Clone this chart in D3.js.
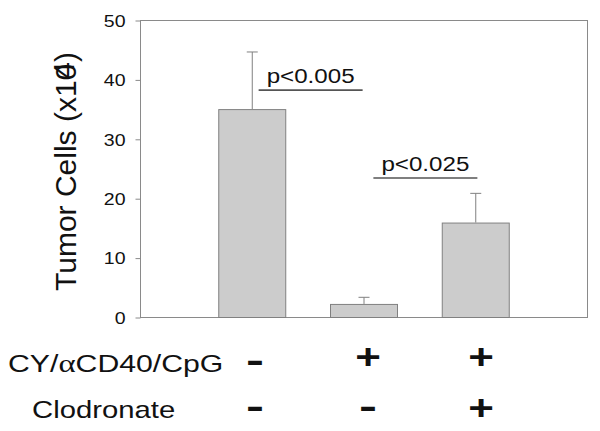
<!DOCTYPE html>
<html>
<head>
<meta charset="utf-8">
<script src="https://cdn.jsdelivr.net/npm/d3@7"></script>
<style>
  body { margin: 0; background: #fff; }
  svg { display: block; font-family: "Liberation Sans", Arial, sans-serif; }
</style>
</head>
<body>
<div id="chart"></div>
<script>
// data
var groups = ["control", "treated", "treated+clodronate"];
var means = [35, 2.2, 15.9];
var errs = [9.7, 1.2, 5.0];
var yTicks = [0, 10, 20, 30, 40, 50];
var pLabels = ["p<0.005", "p<0.025"];
var pPairs = [[0, 1], [1, 2]];
var pLevels = [38.2, 23.4];
var rowLabels = ["CY/\u03b1CD40/CpG", "Clodronate"];
var treatRow = ["-", "+", "+"];
var clodRow = ["-", "-", "+"];

var width = 600, height = 431;
var plotL = 140, plotR = 587, plotT = 20, plotB = 317;
var sx = 1.22; // the original figure text is stretched sideways

var svg = d3.select("#chart").append("svg")
  .attr("width", width).attr("height", height);

var x = d3.scalePoint().domain(groups).range([plotL, plotR]).padding(1);
var y = d3.scaleLinear().domain([0, 50]).range([plotB, plotT]);

// frame
svg.append("rect")
  .attr("x", plotL + 0.5).attr("y", plotT + 0.5)
  .attr("width", plotR - plotL).attr("height", plotB - plotT)
  .attr("fill", "none").attr("stroke", "#8a8a8a");

// y axis
var yAxis = svg.append("g")
  .attr("transform", "translate(" + (plotL + 0.5) + ",0.5)")
  .call(d3.axisLeft(y).tickValues(yTicks).tickSize(5).tickSizeOuter(0));
yAxis.select(".domain").remove();
yAxis.selectAll("line").attr("stroke", "#8a8a8a");
yAxis.selectAll("text")
  .attr("x", 0).attr("dy", "0.36em")
  .attr("transform", "translate(-15,0) scale(" + sx + ",1)")
  .attr("fill", "#111")
  .style("font-size", "16px")
  .style("font-family", "Liberation Sans, Arial, sans-serif");

// y label
svg.append("text")
  .attr("transform", "translate(76," + ((plotT + plotB) / 2 + 3) + ") rotate(-90)")
  .attr("text-anchor", "middle")
  .style("font-size", "30px")
  .attr("fill", "#111")
  .call(function (t) {
    t.append("tspan").text("Tumor Cells (x10");
    t.append("tspan").attr("dx", "-0.5em").attr("dy", -2).text("4");
    t.append("tspan").attr("dy", 2).text(")");
  });

// bars
var barW = 67;
svg.selectAll(".bar").data(groups).enter().append("rect")
  .attr("class", "bar")
  .attr("x", function (d) { return x(d) - barW / 2 + 0.5; })
  .attr("y", function (d, i) { return y(means[i]) + 0.5; })
  .attr("width", barW)
  .attr("height", function (d, i) { return y(0) - y(means[i]); })
  .attr("fill", "#cccccc").attr("stroke", "#808080");

// error bars (upper only)
var err = svg.selectAll(".err").data(groups).enter().append("g")
  .attr("stroke", "#808080").attr("fill", "none");
err.append("line")
  .attr("x1", function (d) { return x(d) + 0.5; })
  .attr("x2", function (d) { return x(d) + 0.5; })
  .attr("y1", function (d, i) { return y(means[i]); })
  .attr("y2", function (d, i) { return y(means[i] + errs[i]) + 0.5; });
err.append("line")
  .attr("x1", function (d) { return x(d) - 5; })
  .attr("x2", function (d) { return x(d) + 6; })
  .attr("y1", function (d, i) { return y(means[i] + errs[i]) + 0.5; })
  .attr("y2", function (d, i) { return y(means[i] + errs[i]) + 0.5; });

// significance brackets
pLabels.forEach(function (lab, i) {
  var a = x(groups[pPairs[i][0]]), b = x(groups[pPairs[i][1]]);
  var cx = (a + b) / 2 + 3 + i * 3;
  var ly = y(pLevels[i]);
  svg.append("line")
    .attr("x1", cx - 52).attr("x2", cx + 52)
    .attr("y1", ly).attr("y2", ly)
    .attr("stroke", "#555").attr("stroke-width", 1.6);
  svg.append("text")
    .attr("transform", "translate(" + cx + "," + (ly - 7) + ") scale(" + (sx - 0.07) + ",1)")
    .attr("text-anchor", "middle")
    .style("font-size", "21px")
    .attr("fill", "#111")
    .text(lab);
});

// treatment table below the chart
var signX = d3.scalePoint().domain(groups).range([255, 481]);
var rowY = [372, 418];
var rowX = [8, 32];
var plusLift = [3, -2];
rowLabels.forEach(function (lab, r) {
  var t = svg.append("text")
    .attr("transform", "translate(" + rowX[r] + "," + rowY[r] + ") scale(" + (r === 0 ? sx + 0.04 : sx) + ",1)")
    .style("font-size", "24px")
    .attr("fill", "#111");
  if (r === 0) {
    t.append("tspan").text("CY/");
    t.append("tspan").style("font-family", "Liberation Serif, serif").style("font-size", "26px").text("\u03b1");
    t.append("tspan").text("CD40/CpG");
  } else {
    t.text(lab);
  }
});
[treatRow, clodRow].forEach(function (row, r) {
  svg.selectAll(".sign" + r).data(row).enter().append("text")
    .attr("transform", function (d, i) {
      var yy = d === "+" ? rowY[r] - plusLift[r] : rowY[r];
      return "translate(" + signX(groups[i]) + "," + yy + ") scale(" + (d === "+" ? sx : 1.5) + ",1)";
    })
    .attr("text-anchor", "middle")
    .style("font-size", "36px")
    .style("font-weight", "bold")
    .attr("fill", "#111")
    .text(function (d) { return d; });
});
</script>
</body>
</html>
